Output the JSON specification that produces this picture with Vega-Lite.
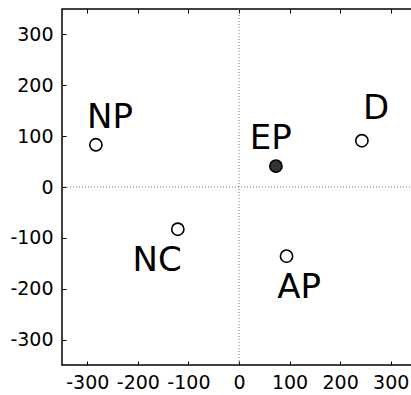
{
  "$schema": "https://vega.github.io/schema/vega-lite/v6.json",
  "width": 354,
  "height": 356,
  "autosize": {"type": "none"},
  "padding": {"left": 62, "top": 9, "right": 0, "bottom": 30},
  "background": "white",
  "config": {
    "view": {"stroke": "black", "strokeWidth": 1.5},
    "axis": {
      "grid": false,
      "domain": false,
      "labelFont": "DejaVu Sans",
      "labelFontSize": 19,
      "labelColor": "black",
      "tickColor": "black",
      "tickSize": -4,
      "tickWidth": 1,
      "title": null
    }
  },
  "resolve": {"axis": {"x": "independent"}},
  "datasets": {
    "points": [
      {"group": "NP", "x": -283, "y": 83, "kind": "open"},
      {"group": "EP", "x": 73, "y": 41, "kind": "filled"},
      {"group": "D", "x": 243, "y": 91, "kind": "open"},
      {"group": "NC", "x": -121, "y": -83, "kind": "open"},
      {"group": "AP", "x": 94, "y": -136, "kind": "open"}
    ],
    "labels": [
      {"group": "NP", "x": -255, "y": 116},
      {"group": "EP", "x": 63, "y": 75},
      {"group": "D", "x": 271, "y": 134},
      {"group": "NC", "x": -162, "y": -166},
      {"group": "AP", "x": 119, "y": -219}
    ],
    "zero": [{"v": 0}]
  },
  "layer": [
    {
      "data": {"name": "zero"},
      "mark": {"type": "rule", "color": "#777", "strokeDash": [1, 2], "strokeWidth": 1},
      "encoding": {"x": {"field": "v", "type": "quantitative", "scale": {"domain": [-350, 350], "nice": false}, "axis": {"values": [-300, -200, -100, 0, 100, 200, 300], "labelPadding": 12, "orient": "bottom", "labelExpr": "datum.value < 0 ? '-' + abs(datum.value) : '' + datum.value"}}}
    },
    {
      "data": {"name": "zero"},
      "mark": {"type": "rule", "color": "#777", "strokeDash": [1, 2], "strokeWidth": 1},
      "encoding": {"y": {"field": "v", "type": "quantitative", "scale": {"domain": [-350, 350], "nice": false}, "axis": {"values": [-300, -200, -100, 0, 100, 200, 300], "labelPadding": 13, "labelExpr": "datum.value < 0 ? '-' + abs(datum.value) : '' + datum.value"}}}
    },
    {
      "data": {"name": "points"},
      "mark": {"type": "point", "shape": "circle", "size": 150, "stroke": "black", "strokeWidth": 1.6, "filled": false, "opacity": 1},
      "encoding": {
        "x": {"field": "x", "type": "quantitative", "axis": null},
        "y": {"field": "y", "type": "quantitative"},
        "fill": {"field": "kind", "type": "nominal", "scale": {"domain": ["open", "filled"], "range": ["white", "#333"]}, "legend": null}
      }
    },
    {
      "data": {"name": "labels"},
      "mark": {"type": "text", "font": "DejaVu Sans", "fontSize": 34, "color": "black", "align": "center", "baseline": "alphabetic"},
      "encoding": {
        "x": {"field": "x", "type": "quantitative", "axis": {"orient": "top", "labels": false, "values": [-300, -200, -100, 0, 100, 200, 300]}},
        "y": {"field": "y", "type": "quantitative"},
        "text": {"field": "group"}
      }
    }
  ]
}
